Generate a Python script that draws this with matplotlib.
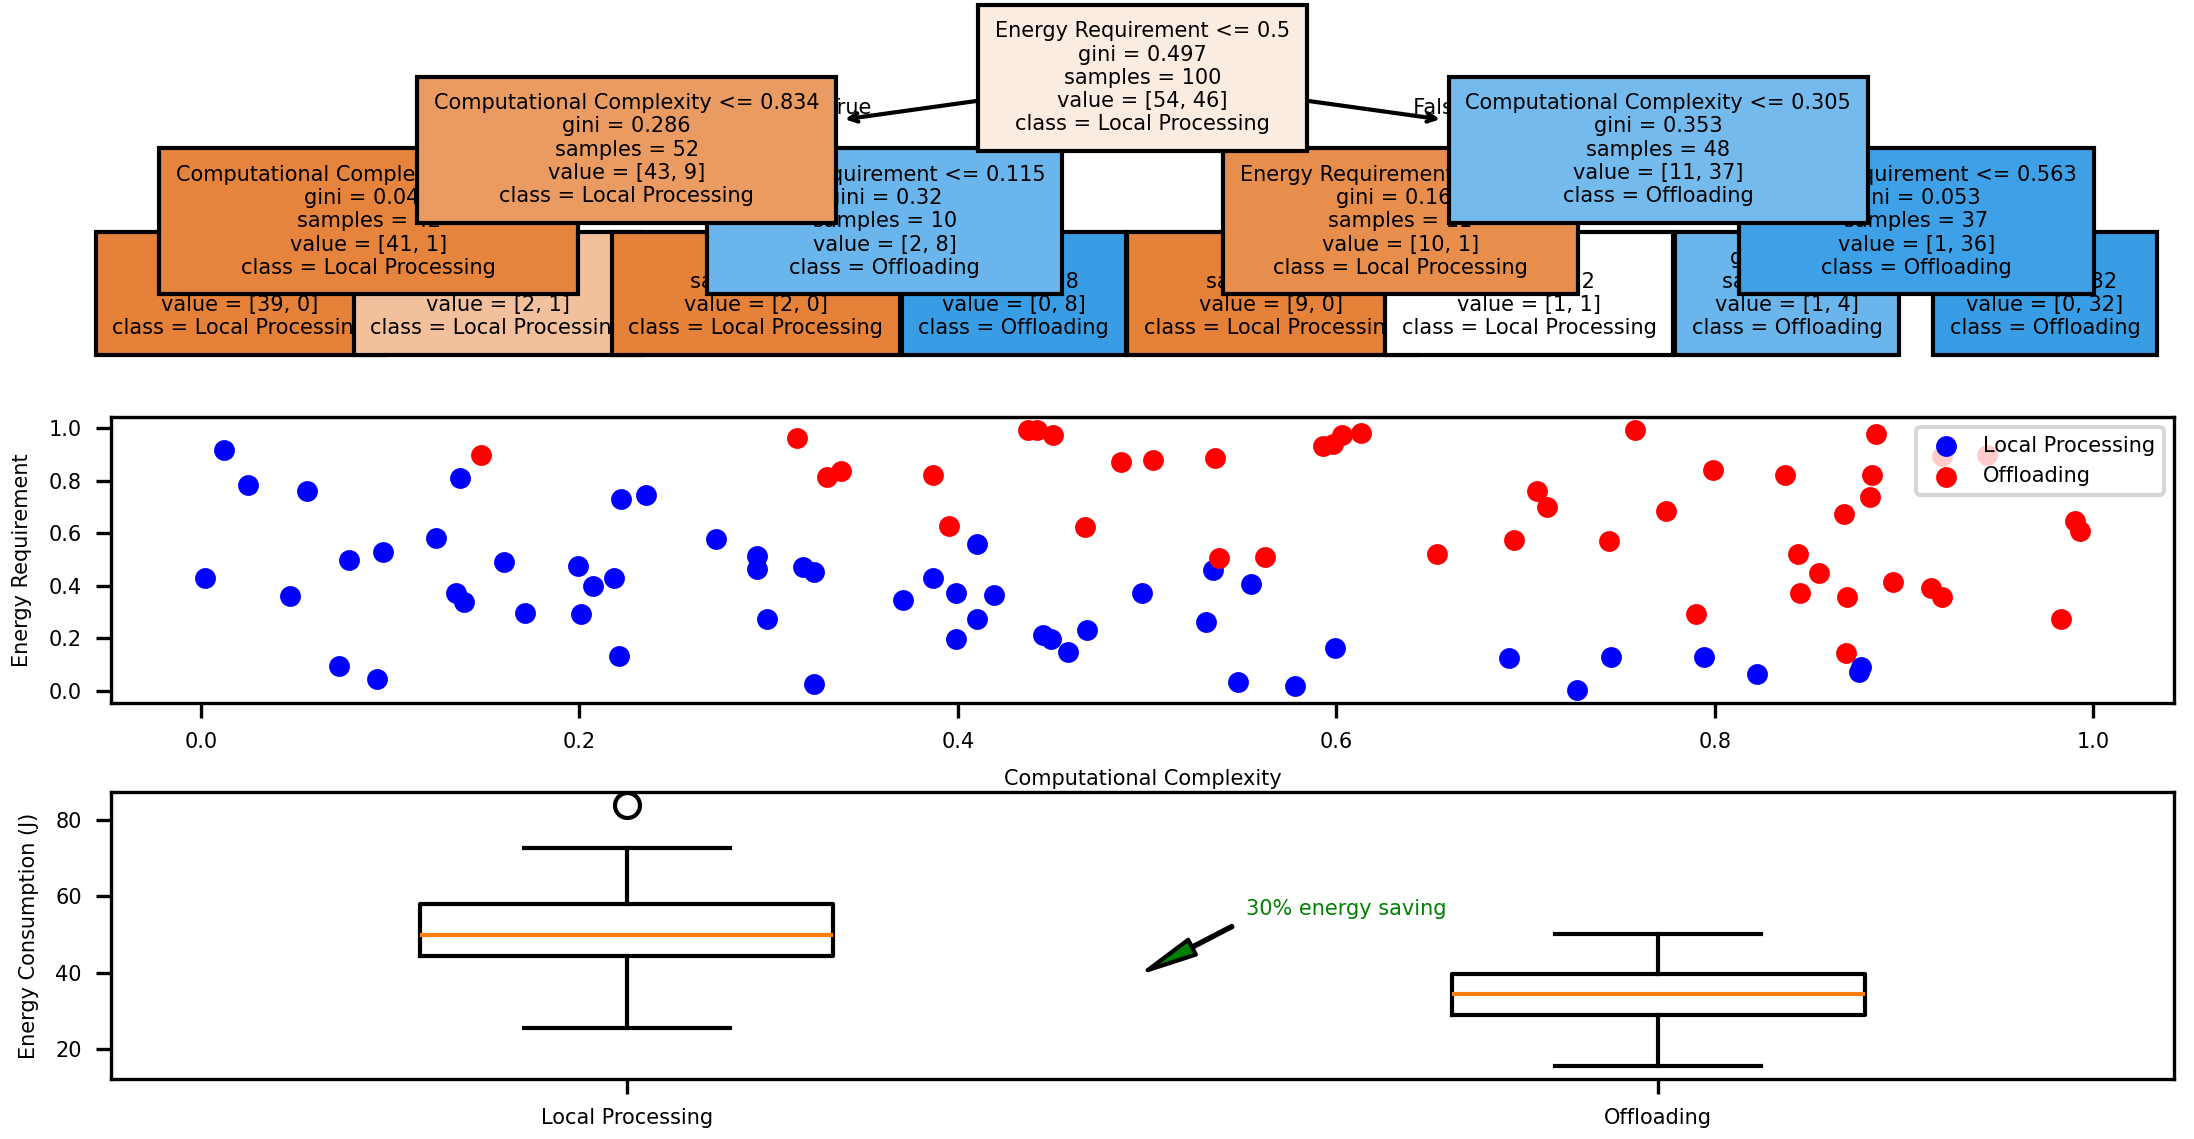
" decision tree, scatter of tasks and energy boxplot for local vs offloaded processing "
import numpy as np
import matplotlib
matplotlib.use("Agg")
import matplotlib.pyplot as plt

plt.rcParams.update({'font.size': 5})

# tree nodes in preorder; leaves have feature None
node_feature = ["Energy Requirement", "Computational Complexity", "Computational Complexity",
                None, None, "Energy Requirement", None, None,
                "Computational Complexity", "Energy Requirement", None, None,
                "Energy Requirement", None, None]
node_threshold = [0.5, 0.834, 0.768, None, None, 0.115, None, None,
                  0.305, 0.853, None, None, 0.563, None, None]
node_gini = [0.497, 0.286, 0.046, 0.0, 0.444, 0.32, 0.0, 0.0,
             0.353, 0.165, 0.0, 0.5, 0.053, 0.32, 0.0]
node_samples = [100, 52, 42, 39, 3, 10, 2, 8, 48, 11, 9, 2, 37, 5, 32]
node_value = [[54, 46], [43, 9], [41, 1], [39, 0], [2, 1], [2, 8], [2, 0], [0, 8],
              [11, 37], [10, 1], [9, 0], [1, 1], [1, 36], [1, 4], [0, 32]]
node_left = [1, 2, 3, -1, -1, 6, -1, -1, 9, 10, -1, -1, 13, -1, -1]
node_right = [8, 5, 4, -1, -1, 7, -1, -1, 12, 11, -1, -1, 14, -1, -1]
class_names = ["Local Processing", "Offloading"]

# scatter data (computational complexity, energy requirement)
local_cc = [0.002, 0.012, 0.025, 0.047, 0.056, 0.073, 0.078, 0.093, 0.096, 0.124,
            0.135, 0.137, 0.139, 0.160, 0.171, 0.199, 0.201, 0.207, 0.218, 0.221,
            0.222, 0.235, 0.272, 0.294, 0.294, 0.299, 0.318, 0.324, 0.324, 0.371,
            0.387, 0.399, 0.399, 0.410, 0.410, 0.419, 0.445, 0.449, 0.458, 0.468,
            0.497, 0.531, 0.535, 0.548, 0.555, 0.578, 0.599, 0.691, 0.727, 0.745,
            0.794, 0.822, 0.876, 0.877]
local_er = [0.429, 0.915, 0.782, 0.363, 0.759, 0.095, 0.497, 0.044, 0.528, 0.580,
            0.372, 0.810, 0.338, 0.489, 0.296, 0.477, 0.294, 0.401, 0.431, 0.132,
            0.728, 0.745, 0.577, 0.513, 0.462, 0.273, 0.471, 0.453, 0.025, 0.345,
            0.428, 0.374, 0.197, 0.558, 0.274, 0.364, 0.214, 0.199, 0.147, 0.231,
            0.372, 0.261, 0.459, 0.034, 0.406, 0.019, 0.162, 0.124, 0.004, 0.129,
            0.129, 0.063, 0.074, 0.093]
off_cc = [0.148, 0.315, 0.331, 0.338, 0.387, 0.395, 0.437, 0.442, 0.450, 0.467,
          0.486, 0.503, 0.536, 0.538, 0.562, 0.593, 0.598, 0.603, 0.613, 0.653,
          0.694, 0.706, 0.711, 0.744, 0.758, 0.774, 0.790, 0.799, 0.837, 0.844,
          0.845, 0.855, 0.868, 0.869, 0.870, 0.882, 0.883, 0.885, 0.894, 0.914,
          0.920, 0.920, 0.944, 0.983, 0.990, 0.993]
off_er = [0.896, 0.962, 0.813, 0.838, 0.821, 0.627, 0.992, 0.992, 0.973, 0.624,
          0.872, 0.877, 0.885, 0.505, 0.510, 0.933, 0.939, 0.972, 0.982, 0.520,
          0.574, 0.759, 0.698, 0.570, 0.991, 0.685, 0.292, 0.839, 0.821, 0.520,
          0.374, 0.448, 0.671, 0.143, 0.359, 0.737, 0.822, 0.977, 0.415, 0.393,
          0.358, 0.892, 0.898, 0.274, 0.645, 0.607]

# boxplot statistics of energy consumption (J)
box_labels = ["Local Processing", "Offloading"]
box_whislo = [25.6, 15.7]
box_q1 = [44.4, 29.1]
box_med = [50.0, 34.4]
box_q3 = [58.1, 39.7]
box_whishi = [72.5, 50.2]
box_fliers = [[83.8], []]

W, H = 2194, 1139
RGB = [(229, 129, 57), (57, 157, 229)]


def fill_color(value):
    " sklearn-like fill: class colour blended with white by purity "
    p = np.array(value, dtype=float) / sum(value)
    srt = sorted(p, reverse=True)
    alpha = (srt[0] - srt[1]) / (1 - srt[1])
    c = RGB[int(np.argmax(p))]
    return "#%02x%02x%02x" % tuple(int(round(alpha * v + (1 - alpha) * 255)) for v in c)


def node_label(i):
    lines = []
    if node_feature[i] is not None:
        lines.append("%s <= %s" % (node_feature[i], round(node_threshold[i], 3)))
    lines.append("gini = %s" % round(node_gini[i], 3))
    lines.append("samples = %d" % node_samples[i])
    lines.append("value = [%d, %d]" % tuple(node_value[i]))
    lines.append("class = %s" % class_names[int(np.argmax(node_value[i]))])
    return "\n".join(lines)


def layout(i, depth, xs, ds, counter):
    " leaves in order, parents centred over children "
    ds[i] = depth
    if node_left[i] < 0:
        xs[i] = counter[0]
        counter[0] += 1
    else:
        layout(node_left[i], depth + 1, xs, ds, counter)
        layout(node_right[i], depth + 1, xs, ds, counter)
        xs[i] = (xs[node_left[i]] + xs[node_right[i]]) / 2
    return xs, ds


fig = plt.figure(figsize=(W / 300, H / 300), dpi=300)
ax0 = fig.add_axes([111 / W, 1 - 329 / H, 2063 / W, 287 / H])
ax1 = fig.add_axes([111 / W, 1 - 703 / H, 2063 / W, 286 / H])
ax2 = fig.add_axes([111 / W, 1 - 1079 / H, 2063 / W, 287 / H])

# --- tree
ax0.set_axis_off()
n = len(node_samples)
xs, ds = layout(0, 0, [0] * n, [0] * n, [0])
max_x = max(xs) + 1
max_y = max(ds) + 1
parent = [-1] * n
for i in range(n):
    if node_left[i] >= 0:
        parent[node_left[i]] = i
        parent[node_right[i]] = i

for i in range(n):
    xy = ((xs[i] + 0.5) / max_x, (max_y - ds[i] - 0.5) / max_y)
    kw = dict(bbox=dict(fc=fill_color(node_value[i]), ec="k"), ha="center", va="center",
              zorder=100 - 10 * ds[i], xycoords="axes fraction", fontsize=5)
    if parent[i] < 0:
        ax0.annotate(node_label(i), xy, **kw)
    else:
        pj = parent[i]
        xyp = ((xs[pj] + 0.5) / max_x, (max_y - ds[pj] - 0.5) / max_y)
        ax0.annotate(node_label(i), xyp, xy, arrowprops=dict(arrowstyle="<-", edgecolor="k"), **kw)
        if parent[pj] < 0:
            tpos = ((xyp[0] + xy[0]) / 2, (xyp[1] + xy[1]) / 2)
            if node_left[pj] == i:
                ax0.text(*tpos, "True  ", ha="right", transform=ax0.transAxes)
            else:
                ax0.text(*tpos, "  False", ha="left", transform=ax0.transAxes)

# --- scatter
ax1.scatter(local_cc, local_er, c="blue", s=16, label="Local Processing")
ax1.scatter(off_cc, off_er, c="red", s=16, label="Offloading")
ax1.set_xlabel("Computational Complexity")
ax1.set_ylabel("Energy Requirement")
ax1.legend(loc="upper right")

# --- boxplot
stats = []
for k in range(len(box_labels)):
    stats.append(dict(label=box_labels[k], whislo=box_whislo[k], q1=box_q1[k], med=box_med[k],
                      q3=box_q3[k], whishi=box_whishi[k], fliers=box_fliers[k]))
ax2.bxp(stats, widths=0.4)
ax2.set_ylabel("Energy Consumption (J)")
ax2.annotate("30% energy saving", xy=(1.5, 40), xytext=(1.6, 55), color="green",
             arrowprops=dict(facecolor="green", shrink=0.05, width=0.3, headwidth=4))

fig.savefig("out.png", dpi=300)
